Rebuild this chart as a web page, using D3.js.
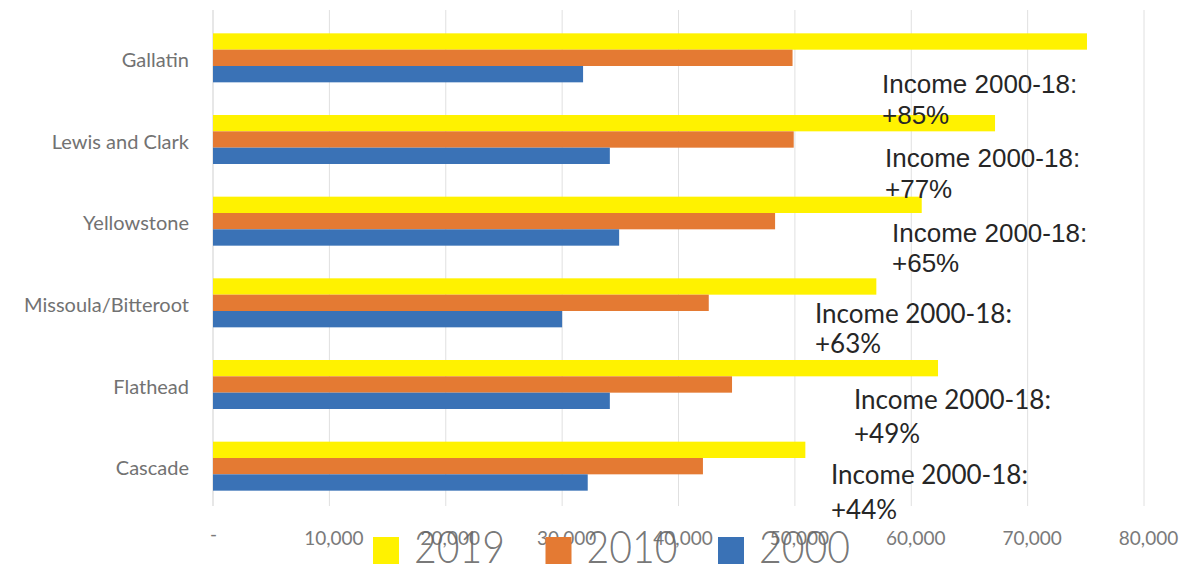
<!DOCTYPE html>
<html>
<head>
<meta charset="utf-8">
<script src="https://cdn.jsdelivr.net/npm/d3@7"></script>
<style>
  html, body { margin: 0; padding: 0; background: #fff; }
  #chart { width: 1187px; height: 569px; }
</style>
</head>
<body>
<div id="chart"></div>
<script>
// county median household income
const counties = ["Gallatin", "Lewis and Clark", "Yellowstone", "Missoula/Bitteroot", "Flathead", "Cascade"];
const years = ["2019", "2010", "2000"];
const income2019 = [75100, 67200, 60900, 57000, 62300, 50900];
const income2010 = [49800, 49900, 48300, 42600, 44600, 42100];
const income2000 = [31800, 34100, 34900, 30000, 34100, 32200];
const growthLabels = ["+85%", "+77%", "+65%", "+63%", "+49%", "+44%"];
const noteTitle = "Income 2000-18:";
const tickValues = [0, 10000, 20000, 30000, 40000, 50000, 60000, 70000, 80000];

const seriesByYear = { "2019": income2019, "2010": income2010, "2000": income2000 };
const colors = { "2019": "#fff200", "2010": "#e47a33", "2000": "#3a72b6" };

class IncomeChart {
    constructor(parentElement) {
        this.parentElement = d3.select(parentElement);
        this.width = 1187;
        this.height = 569;
        this.render();
    }

    render() {
        const svg = this.parentElement.append("svg")
            .attr("width", this.width)
            .attr("height", this.height);

        const x = d3.scaleLinear().domain([0, 80000]).range([213, 1144]);
        const y = d3.scaleBand().domain(counties).range([17, 507])
            .paddingInner(0.4).paddingOuter(0.2);
        const yInner = d3.scaleBand().domain(years).range([0, y.bandwidth()]);

        // gridlines
        svg.append("g")
            .selectAll("line")
            .data(tickValues)
            .enter().append("line")
            .attr("x1", d => x(d)).attr("x2", d => x(d))
            .attr("y1", 10).attr("y2", 506)
            .style("stroke", d => d === 0 ? "#cfcfcf" : "#e0e0e0")
            .style("stroke-width", 1);

        // bars
        const rows = svg.append("g")
            .selectAll("g")
            .data(counties)
            .enter().append("g")
            .attr("transform", d => `translate(0,${y(d)})`);

        rows.selectAll("rect")
            .data((d, i) => years.map(yr => ({ year: yr, value: seriesByYear[yr][i] })))
            .enter().append("rect")
            .attr("x", x(0))
            .attr("y", d => yInner(d.year))
            .attr("width", d => x(d.value) - x(0))
            .attr("height", yInner.bandwidth())
            .style("fill", d => colors[d.year]);

        // category labels
        const yAxis = svg.append("g")
            .attr("transform", `translate(${x(0) - 24},0)`)
            .call(d3.axisLeft(y).tickSize(0).tickPadding(0));
        yAxis.select(".domain").remove();
        yAxis.selectAll("text")
            .attr("dy", "0.45em")
            .style("font-family", "Lato, 'Open Sans', sans-serif")
            .style("font-size", "20px")
            .style("fill", "#727272");

        // value axis labels
        const xAxis = svg.append("g")
            .attr("transform", "translate(4,531)")
            .call(d3.axisBottom(x).tickValues(tickValues).tickSize(0).tickPadding(0)
                .tickFormat(d => d === 0 ? "-" : d3.format(",")(d)));
        xAxis.select(".domain").remove();
        xAxis.selectAll("text")
            .attr("dy", "0.71em")
            .style("font-family", "Lato, 'Open Sans', sans-serif")
            .style("font-size", "19px")
            .style("fill", "#7a7a7a");
        xAxis.selectAll(".tick").filter(d => d === 0).select("text")
            .attr("transform", "translate(-4,-4)");

        // legend
        const legend = svg.append("g")
            .selectAll("g")
            .data(years)
            .enter().append("g")
            .attr("transform", (d, i) => `translate(${373 + i * 172.5},537)`);
        legend.append("rect")
            .attr("width", 26).attr("height", 27)
            .style("fill", d => colors[d]);
        legend.append("text")
            .text(d => d)
            .attr("x", 41).attr("y", 26)
            .attr("textLength", 91)
            .attr("lengthAdjust", "spacingAndGlyphs")
            .style("font-family", "Lato, 'Open Sans', sans-serif")
            .style("font-weight", 300)
            .style("font-size", "45px")
            .style("fill", "#666666")
            .style("fill-opacity", 0.9);

        // growth notes, loose text boxes placed by hand
        const noteSpots = [
            { x: 882, y1: 93, y2: 124, font: "'Liberation Sans', Arial, sans-serif" },
            { x: 885, y1: 167, y2: 198, font: "'Liberation Sans', Arial, sans-serif" },
            { x: 892, y1: 242, y2: 272, font: "'Liberation Sans', Arial, sans-serif" },
            { x: 815, y1: 323, y2: 353, font: "Lato, 'Open Sans', sans-serif" },
            { x: 854, y1: 409, y2: 443, font: "Lato, 'Open Sans', sans-serif" },
            { x: 831, y1: 484, y2: 519, font: "Lato, 'Open Sans', sans-serif" }
        ];
        const notes = svg.append("g")
            .selectAll("text")
            .data(growthLabels)
            .enter().append("text")
            .attr("x", (d, i) => noteSpots[i].x)
            .style("font-family", (d, i) => noteSpots[i].font)
            .style("font-size", "26px")
            .style("fill", "#262626");
        notes.append("tspan")
            .attr("x", (d, i) => noteSpots[i].x)
            .attr("y", (d, i) => noteSpots[i].y1)
            .text(noteTitle);
        notes.append("tspan")
            .attr("x", (d, i) => noteSpots[i].x)
            .attr("y", (d, i) => noteSpots[i].y2)
            .text(d => d);
    }
}

new IncomeChart("#chart");
</script>
</body>
</html>
